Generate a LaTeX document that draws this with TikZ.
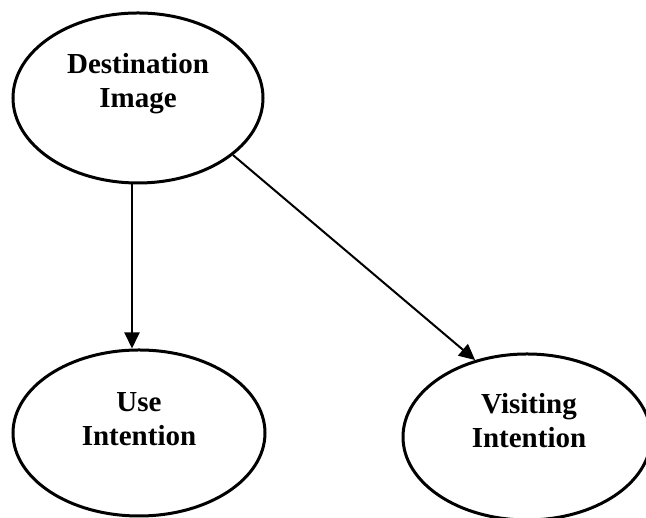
\documentclass[tikz,border=0pt]{standalone}
\usepackage{fontspec}
\setmainfont{Liberation Serif}
\usetikzlibrary{shapes.geometric,arrows.meta}
\begin{document}
\begin{tikzpicture}[x=1pt,y=1pt]
		\tikzset{
			% hinh elip
			oval/.style={draw,ellipse,line width=3pt,inner sep=0pt},
			% chu
			nhan/.style={font=\bfseries\fontsize{29}{34}\selectfont,align=center,inner sep=0pt},
			% mui ten
			muiten/.style={line width=2pt,-{Triangle[length=16pt,width=15pt]}},
		}
		%
		\useasboundingbox (0,0) rectangle (646,518);
		\clip (0,0) rectangle (646,518);
		%
		\node[oval,minimum width=250pt,minimum height=170pt](di) at (138,420){};
		\node[oval,minimum width=252pt,minimum height=166pt](ui) at (139,85){};
		\node[oval,minimum width=248pt,minimum height=166pt](vi) at (527,81){};
		%
		\node[nhan](ldi) at ([yshift=14pt]di.center){Destination\\Image};
		\node[nhan](lui) at ([yshift=13.5pt]ui.center){Use\\Intention};
		\node[nhan](lvi) at ([xshift=2pt,yshift=16.5pt]vi.center){Visiting\\Intention};
		%
		\draw[muiten]([xshift=-6pt]di.south)--([xshift=-6pt]di.south |- ui.north);
		\draw[muiten](di.-31)--(vi.124);
\end{tikzpicture}
\end{document}
